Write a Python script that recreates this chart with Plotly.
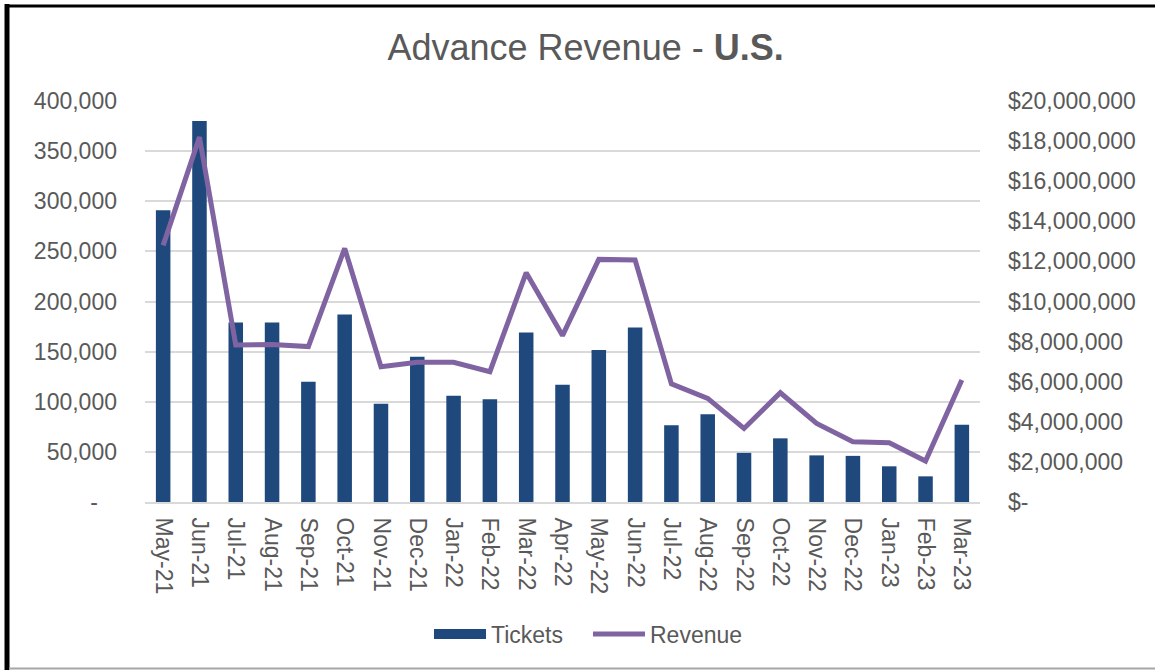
import plotly.graph_objects as go

months = ["May-21", "Jun-21", "Jul-21", "Aug-21", "Sep-21", "Oct-21", "Nov-21", "Dec-21",
          "Jan-22", "Feb-22", "Mar-22", "Apr-22", "May-22", "Jun-22", "Jul-22", "Aug-22",
          "Sep-22", "Oct-22", "Nov-22", "Dec-22", "Jan-23", "Feb-23", "Mar-23"]
tickets = [291000, 380000, 179000, 179000, 120000, 187000, 98000, 145000,
           106000, 102500, 169000, 117000, 151500, 174000, 76500, 87500,
           49000, 63500, 46500, 46000, 35600, 25600, 77000]
revenue = [12800000, 18200000, 7830000, 7860000, 7750000, 12650000, 6750000, 6970000,
           6970000, 6500000, 11440000, 8300000, 12100000, 12070000, 5890000, 5170000,
           3670000, 5450000, 3920000, 3000000, 2960000, 2040000, 6080000]

left_ticks = [0, 50000, 100000, 150000, 200000, 250000, 300000, 350000, 400000]
left_text = ["-\u00a0\u00a0\u00a0", "50,000", "100,000", "150,000", "200,000",
             "250,000", "300,000", "350,000", "400,000"]
right_ticks = [0, 2e6, 4e6, 6e6, 8e6, 10e6, 12e6, 14e6, 16e6, 18e6, 20e6]
right_text = ["$-", "$2,000,000", "$4,000,000", "$6,000,000", "$8,000,000", "$10,000,000",
              "$12,000,000", "$14,000,000", "$16,000,000", "$18,000,000", "$20,000,000"]

W, H = 1155, 670
ML, MR, MT, MB = 145, 175, 101, 168
pw, ph = W - ML - MR, H - MT - MB

def px2x(px):
    return (px - ML) / pw

def py2y(py):
    return (H - MB - py) / ph

TXT = "#595959"
FONT = "Liberation Sans, Arial, sans-serif"
NAVY = "#1F497D"
PURPLE = "#8064A2"

fig = go.Figure()
fig.add_trace(go.Bar(x=months, y=tickets, name="Tickets", marker_color=NAVY,
                     marker_line_width=0, width=0.4, yaxis="y", showlegend=False))
# legend proxy with a wide rectangular swatch like the original
fig.add_trace(go.Scatter(x=[None], y=[None], name="Tickets", mode="lines",
                         line=dict(color=NAVY, width=12), yaxis="y", hoverinfo="skip"))
fig.add_trace(go.Scatter(x=months, y=revenue, name="Revenue", mode="lines",
                         line=dict(color=PURPLE, width=5), yaxis="y2"))

fig.update_layout(
    width=W, height=H,
    margin=dict(l=ML, r=MR, t=MT, b=MB),
    paper_bgcolor="white", plot_bgcolor="white",
    font=dict(family=FONT, size=23, color=TXT),
    title=dict(text="Advance Revenue - <b>U.S.</b>", x=0.507, xref="container",
               xanchor="center", y=1 - 47 / H, yref="container", yanchor="middle",
               font=dict(size=36, color=TXT, family=FONT)),
    xaxis=dict(type="category", tickangle=90, showgrid=False, showline=True,
               linecolor="#D9D9D9", linewidth=2, ticks="", automargin=False,
               ticklabelstandoff=9, tickfont=dict(size=23, color=TXT)),
    yaxis=dict(range=[0, 400000], tickvals=left_ticks, ticktext=left_text,
               showgrid=True, gridcolor="#D9D9D9", gridwidth=2, zeroline=False,
               showline=False, ticks="", automargin=False, ticklabelstandoff=27,
               tickfont=dict(size=23, color=TXT)),
    yaxis2=dict(range=[0, 20000000], tickvals=right_ticks, ticktext=right_text,
                overlaying="y", side="right", showgrid=False, zeroline=False,
                showline=False, ticks="", automargin=False, ticklabelstandoff=27,
                tickfont=dict(size=23, color=TXT)),
    legend=dict(orientation="h", x=px2x(429), xanchor="left", y=py2y(634), yanchor="middle",
                xref="paper", yref="paper", font=dict(size=23, color=TXT),
                bgcolor="rgba(0,0,0,0)", itemwidth=52, entrywidth=92,
                traceorder="normal"),
    showlegend=True,
)

# chart frame
fig.add_shape(type="line", xref="paper", yref="paper", x0=px2x(7), x1=px2x(W + 5),
              y0=py2y(6), y1=py2y(6), line=dict(color="black", width=3))
fig.add_shape(type="line", xref="paper", yref="paper", x0=px2x(7), x1=px2x(7),
              y0=py2y(4), y1=py2y(H + 5), line=dict(color="black", width=5))
fig.add_shape(type="line", xref="paper", yref="paper", x0=px2x(9), x1=px2x(W + 5),
              y0=py2y(668.5), y1=py2y(668.5), line=dict(color="#A6A6A6", width=2))

fig.write_html("out.html", config={"displayModeBar": False},
               post_script="document.body.style.margin='0';")
